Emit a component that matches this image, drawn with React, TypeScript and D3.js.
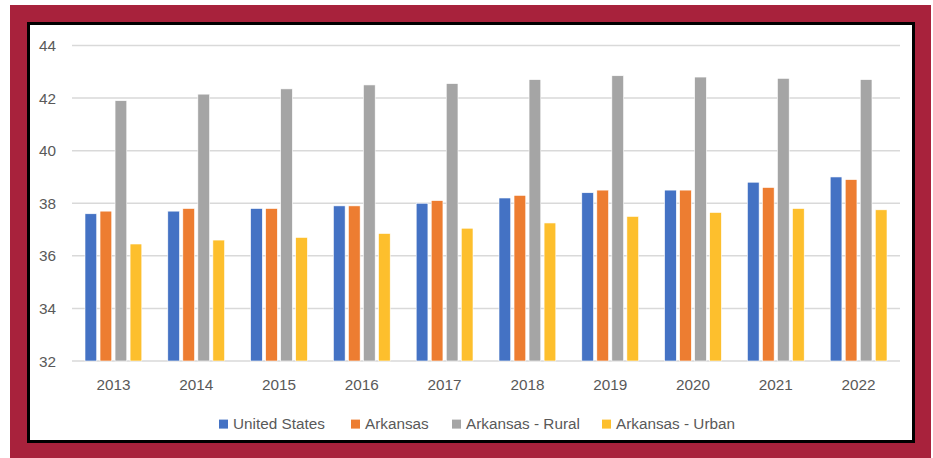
import React from "react";
import * as d3 from "d3";

const years = ["2013", "2014", "2015", "2016", "2017", "2018", "2019", "2020", "2021", "2022"];
const seriesNames = ["United States", "Arkansas", "Arkansas - Rural", "Arkansas - Urban"];
const unitedStates = [37.6, 37.7, 37.8, 37.9, 38.0, 38.2, 38.4, 38.5, 38.8, 39.0];
const arkansas = [37.7, 37.8, 37.8, 37.9, 38.1, 38.3, 38.5, 38.5, 38.6, 38.9];
const arkansasRural = [41.9, 42.15, 42.35, 42.5, 42.55, 42.7, 42.85, 42.8, 42.75, 42.7];
const arkansasUrban = [36.45, 36.6, 36.7, 36.85, 37.05, 37.25, 37.5, 37.65, 37.8, 37.75];
const yTicks = [32, 34, 36, 38, 40, 42, 44];
const colors = ["#4472C4", "#ED7D31", "#A5A5A5", "#FDBF2D"];

const W = 933;
const H = 458;
const FONT = "'Liberation Sans', Arial, sans-serif";

export default function App() {
  const seriesValues = [unitedStates, arkansas, arkansasRural, arkansasUrban];
  const x = d3.scaleBand<string>().domain(years).range([72, 900]).paddingInner(0).paddingOuter(0);
  const bw = x.bandwidth();
  const inner = d3.scaleBand<string>().domain(seriesNames).range([13, bw - 13]).paddingInner(0.22).paddingOuter(0);
  const y = d3.scaleLinear().domain([32, 44]).range([361, 45.5]);

  const legendFont = 15.3;
  const approxWidths = [93, 62, 111, 119];
  const sq = 9;
  const gapSqText = 5;
  const gapItems = 25;
  const totalW = approxWidths.reduce((a, w) => a + sq + gapSqText + w, 0) + gapItems * 3;
  let lx = 477 - totalW / 2;
  const legendItems = seriesNames.map((n, i) => {
    const item = { name: n, x: lx, color: colors[i] };
    lx += sq + gapSqText + approxWidths[i] + gapItems;
    return item;
  });

  return (
    <svg width={W} height={H} style={{ position: "absolute", left: 0, top: 0 }}>
      <rect x={0} y={0} width={W} height={H} fill="#ffffff" />
      <rect x={10} y={5} width={921} height={453} fill="#A8223C" />
      <rect x={28.5} y={23.5} width={885} height={418} fill="#ffffff" stroke="#000000" strokeWidth={3} />
      {yTicks.map((t) => (
        <g key={t}>
          <line x1={72} x2={900} y1={y(t)} y2={y(t)} stroke="#D9D9D9" strokeWidth={1.5} />
          <text x={56} y={y(t)} dy="0.36em" textAnchor="end" fontFamily={FONT} fontSize={15.3} fill="#595959">
            {t}
          </text>
        </g>
      ))}
      {years.map((yr, i) => (
        <g key={yr} transform={`translate(${x(yr)},0)`}>
          {seriesValues.map((vals, s) => (
            <rect
              key={s}
              x={inner(seriesNames[s])}
              y={y(vals[i])}
              width={inner.bandwidth()}
              height={y(32) - y(vals[i])}
              fill={colors[s]}
              stroke="#ffffff"
              strokeWidth={0.6}
            />
          ))}
          <text x={bw / 2} y={389.5} textAnchor="middle" fontFamily={FONT} fontSize={15.3} fill="#595959">
            {yr}
          </text>
        </g>
      ))}
      {legendItems.map((it) => (
        <g key={it.name}>
          <rect x={it.x} y={419.6} width={sq} height={sq} fill={it.color} />
          <text x={it.x + sq + gapSqText} y={428.6} fontFamily={FONT} fontSize={legendFont} fill="#595959">
            {it.name}
          </text>
        </g>
      ))}
    </svg>
  );
}
